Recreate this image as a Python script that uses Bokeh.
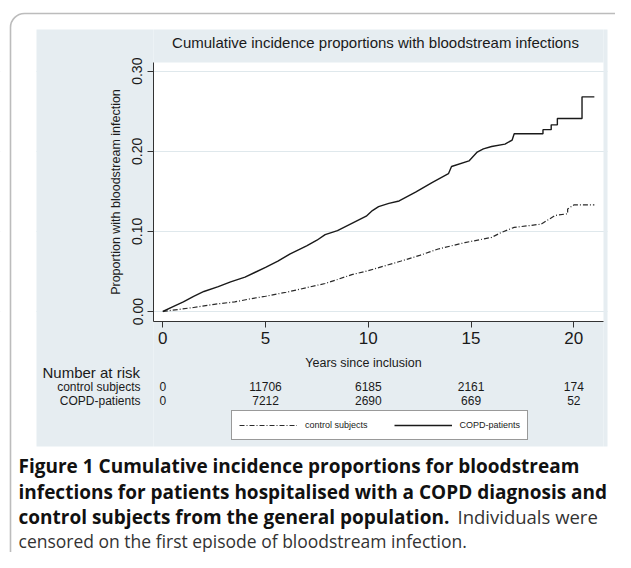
from bokeh.plotting import figure
from bokeh.models import (Label, BoxAnnotation, FixedTicker, NumeralTickFormatter,
                          Legend, LegendItem, Range1d)
from bokeh.embed import file_html
from bokeh.resources import INLINE

# ---------------- data ----------------
copd_years = [0, 0.5, 1.0, 1.5, 2.0, 2.7, 3.3, 4.0, 4.5, 5.0,
              5.6, 6.2, 7.0, 7.5, 7.9, 8.5, 9.2, 9.9, 10.2, 10.5,
              11.0, 11.5, 12.3, 13.1, 13.9, 14.05, 14.9, 15.3, 15.6, 16.0,
              16.65, 17.0, 17.1, 18.5, 18.5, 18.9, 18.9, 19.2, 19.2, 20.4,
              20.4, 21.0]
copd_prop = [0, 0.006, 0.012, 0.019, 0.025, 0.031, 0.037, 0.043, 0.049, 0.055,
             0.063, 0.072, 0.082, 0.089, 0.096, 0.101, 0.110, 0.119, 0.126, 0.131,
             0.135, 0.138, 0.149, 0.161, 0.172, 0.181, 0.188, 0.199, 0.203, 0.206,
             0.209, 0.214, 0.222, 0.222, 0.227, 0.227, 0.233, 0.233, 0.241, 0.241,
             0.268, 0.268]
ctrl_years = [0, 1.5, 2.5, 3.5, 4.3, 5.0, 6.0, 6.7, 7.9, 8.5,
              9.2, 10.0, 10.8, 11.6, 12.5, 13.4, 14.7, 16.0, 16.5, 17.1,
              18.4, 19.1, 19.7, 19.7, 20.0, 21.0]
ctrl_prop = [0, 0.005, 0.009, 0.012, 0.016, 0.019, 0.024, 0.028, 0.035, 0.040,
             0.046, 0.051, 0.057, 0.063, 0.070, 0.078, 0.086, 0.0925, 0.099, 0.105,
             0.109, 0.120, 0.122, 0.128, 0.133, 0.133]

x_ticks = [0, 5, 10, 15, 20]
y_ticks = [0.0, 0.1, 0.2, 0.3]
risk_times = [0, 5, 10, 15, 20]
risk_control = [0, 11706, 6185, 2161, 174]
risk_copd = [0, 7212, 2690, 669, 52]
series_names = ["control subjects", "COPD-patients"]
risk_title = "Number at risk"
chart_title = "Cumulative incidence proportions with bloodstream infections"
x_title = "Years since inclusion"
y_title = "Proportion with bloodstream infection"
caption_bold = ["Figure 1 Cumulative incidence proportions for bloodstream",
                "infections for patients hospitalised with a COPD diagnosis and",
                "control subjects from the general population."]
caption_regular = ["Individuals were",
                   "censored on the first episode of bloodstream infection."]

# ---------------- geometry (pixels on the canvas) ----------------
W, H = 615, 552
PX_YEAR = 20.55          # pixels per year
X0 = 162.3               # canvas x of year 0
PX_UNIT = 801.0          # pixels per 1.0 proportion
Y0 = 311.0               # canvas y of proportion 0
PLOT_L, PLOT_R, PLOT_T, PLOT_B = 153, 603, 62, 321


def dx(px):
    return (px - X0) / PX_YEAR


def dy(py):
    return (Y0 - py) / PX_UNIT


def sx(px):
    return px


def sy(py):
    return H - py


p = figure(width=W, height=H,
           x_range=Range1d(dx(0), dx(W)), y_range=Range1d(dy(H), dy(0)),
           output_backend="svg", toolbar_location=None,
           min_border_left=0, min_border_right=0,
           min_border_top=0, min_border_bottom=0,
           background_fill_color="white", border_fill_color="white",
           outline_line_color=None)

PANEL = "#E6EDF1"
TXT = "#1a1a1a"
FONT = "Liberation Sans"

# horizontal grid (covered outside the plot region by the panel strips below)
p.xgrid.grid_line_color = None
p.ygrid.ticker = FixedTicker(ticks=y_ticks)
p.ygrid.grid_line_color = "#DFE8EC"
p.ygrid.grid_line_width = 1

# panel strips around the white plot region, and white margins outside the panel
strips = [
    (None, sx(36), None, None, "white"),
    (sx(607), None, None, None, "white"),
    (sx(36), sx(PLOT_L), sy(29), sy(446), PANEL),
    (sx(PLOT_R), sx(607), sy(29), sy(446), PANEL),
    (sx(PLOT_L), sx(PLOT_R), sy(29), sy(PLOT_T), PANEL),
    (sx(PLOT_L), sx(PLOT_R), sy(PLOT_B), sy(446), PANEL),
]
for l, r, t, b, c in strips:
    kw = {}
    if l is not None:
        kw.update(left=l, left_units="screen")
    if r is not None:
        kw.update(right=r, right_units="screen")
    if t is not None:
        kw.update(top=t, top_units="screen")
    if b is not None:
        kw.update(bottom=b, bottom_units="screen")
    p.add_layout(BoxAnnotation(fill_color=c, fill_alpha=1, line_color=None,
                               level="underlay", **kw))

# outer rounded border
p.add_layout(BoxAnnotation(left=sx(10), right=sx(629), top=sy(13), bottom=sy(640),
                           left_units="screen", right_units="screen",
                           top_units="screen", bottom_units="screen",
                           fill_alpha=0, line_color="#222222", line_width=1.6,
                           border_radius=14, level="overlay"))

# axes fixed at the edges of the plot region
p.xaxis.fixed_location = dy(PLOT_B)
p.xaxis.bounds = (dx(PLOT_L), dx(PLOT_R))
p.yaxis.fixed_location = dx(PLOT_L)
p.yaxis.bounds = (dy(PLOT_B), dy(PLOT_T))

for ax in (p.xaxis[0], p.yaxis[0]):
    ax.axis_line_color = "#333333"
    ax.major_tick_line_color = "#333333"
    ax.major_tick_out = 6
    ax.major_tick_in = 0
    ax.minor_tick_out = 0
    ax.minor_tick_in = 0
    ax.major_label_text_font = FONT
    ax.major_label_text_color = TXT

p.xaxis.ticker = FixedTicker(ticks=x_ticks)
p.xaxis.major_label_text_font_size = "17px"
p.xaxis.major_label_standoff = 4

p.yaxis.ticker = FixedTicker(ticks=y_ticks)
p.yaxis.formatter = NumeralTickFormatter(format="0.00")
p.yaxis.major_label_orientation = "vertical"
p.yaxis.major_label_text_font_size = "14px"
p.yaxis.major_label_standoff = 5
p.yaxis.axis_label = y_title
p.yaxis.axis_label_text_font = FONT
p.yaxis.axis_label_text_font_style = "normal"
p.yaxis.axis_label_text_font_size = "12.5px"
p.yaxis.axis_label_text_color = TXT
p.yaxis.axis_label_standoff = 7

# curves
r_ctrl = p.line(ctrl_years, ctrl_prop, line_color="#2a2a2a", line_width=1.2,
                line_dash="5 2 1 2")
r_copd = p.line(copd_years, copd_prop, line_color="#1a1a1a", line_width=1.4)

legend = Legend(items=[LegendItem(label=series_names[0], renderers=[r_ctrl]),
                       LegendItem(label=series_names[1], renderers=[r_copd])],
                orientation="horizontal", location=(sx(231), sy(440)),
                glyph_width=58, glyph_height=14, label_height=14,
                label_standoff=8, spacing=26, padding=7, margin=0,
                border_line_color="#333333", border_line_width=1,
                background_fill_color="white", background_fill_alpha=1,
                label_text_font=FONT, label_text_font_size="9px",
                label_text_color=TXT)
p.add_layout(legend)


def lab(x, y, text, size, align="left", font=FONT, style="normal", color=TXT):
    p.add_layout(Label(x=sx(x), y=sy(y), x_units="screen", y_units="screen",
                       text=text, text_font=font, text_font_size=f"{size}px",
                       text_align=align, text_baseline="middle",
                       text_font_style=style, text_color=color))


lab(375, 42, chart_title, 15, "center")
lab(363, 362, x_title, 12.5, "center")
lab(42, 372, risk_title, 15)
lab(140, 386, series_names[0], 12, "right")
lab(140, 400, series_names[1], 12, "right")

for row_y, counts in ((386, risk_control), (400, risk_copd)):
    for t, n in zip(risk_times, counts):
        p.add_layout(Label(x=t, y=sy(row_y), x_units="data", y_units="screen",
                           text=str(n), text_font=FONT, text_font_size="12px",
                           text_align="center", text_baseline="middle",
                           text_color=TXT))

# caption
CAP = "Open Sans"
lab(18, 465, caption_bold[0], 19, font=CAP, style="bold", color="#111111")
lab(18, 491, caption_bold[1], 19, font=CAP, style="bold", color="#111111")
lab(18, 516, caption_bold[2], 19, font=CAP, style="bold", color="#111111")
lab(457, 516, caption_regular[0], 18.5, font=CAP, color="#333333")
lab(18, 540, caption_regular[1], 17.5, font=CAP, color="#333333")

open("out.html", "w").write(file_html(p, INLINE))
